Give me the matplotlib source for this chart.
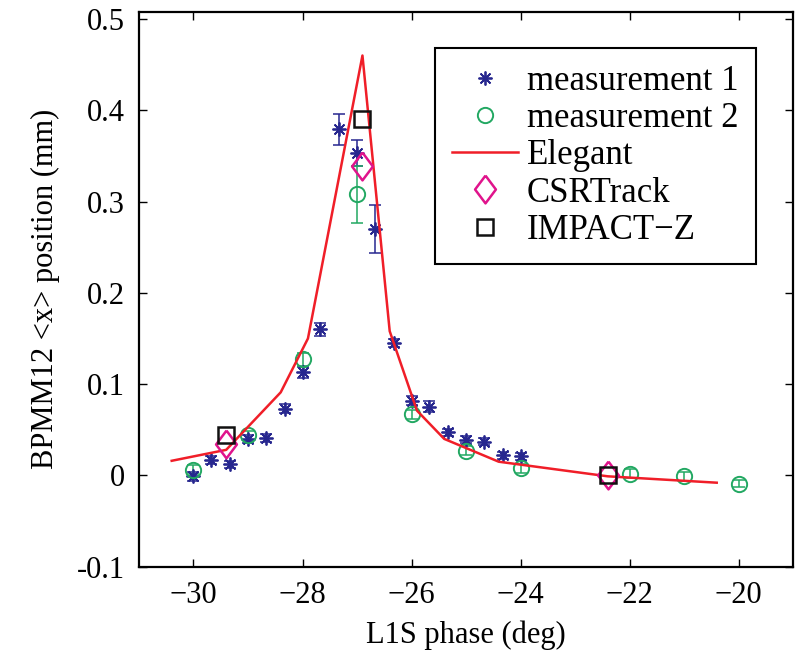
import numpy as np
import matplotlib.pyplot as plt

plt.rcParams['font.family'] = ['Liberation Serif', 'DejaVu Serif']

# measurement 1 (asterisks, with error bars)
m1_phase = [-30.0, -29.67, -29.33, -29.0, -28.67, -28.33, -28.0, -27.67, -27.33, -27.0,
            -26.67, -26.33, -26.0, -25.67, -25.33, -25.0, -24.67, -24.33, -24.0]
m1_pos = [-0.001, 0.017, 0.012, 0.040, 0.041, 0.073, 0.113, 0.160, 0.379, 0.353,
          0.270, 0.145, 0.082, 0.075, 0.047, 0.039, 0.037, 0.022, 0.021]
m1_err = [0.005, 0.004, 0.004, 0.004, 0.004, 0.005, 0.006, 0.007, 0.017, 0.014,
          0.026, 0.004, 0.005, 0.006, 0.004, 0.004, 0.004, 0.004, 0.004]

# measurement 2 (circles, with error bars)
m2_phase = [-30.0, -29.0, -28.0, -27.0, -26.0, -25.0, -24.0, -22.0, -21.0, -20.0]
m2_pos = [0.006, 0.044, 0.127, 0.308, 0.067, 0.027, 0.008, 0.002, -0.001, -0.009]
m2_err = [0.005, 0.005, 0.007, 0.031, 0.005, 0.005, 0.005, 0.005, 0.005, 0.004]

# Elegant simulation
el_phase = [-30.4, -29.4, -28.4, -27.9, -26.9, -26.4, -25.9, -25.4, -24.4, -22.4, -20.4]
el_pos = [0.016, 0.028, 0.091, 0.150, 0.460, 0.158, 0.071, 0.040, 0.015, -0.001, -0.008]

# CSRTrack and IMPACT-Z simulations
csr_phase = [-29.4, -26.9, -22.4]
csr_pos = [0.034, 0.339, 0.000]
imp_phase = [-29.4, -26.9, -22.4]
imp_pos = [0.044, 0.390, 0.000]

c_m1 = '#27278f'
c_m2 = '#22a862'
c_el = '#f01e28'
c_csr = '#e0148c'

# diamond a bit wider than matplotlib's thin diamond
diamond = [(0, 1), (0.75, 0), (0, -1), (-0.75, 0), (0, 1)]

fig = plt.figure(figsize=(7.97, 6.61), dpi=100)
ax = fig.add_axes([0.1744, 0.1427, 0.8206, 0.8396])

ax.errorbar(m1_phase, m1_pos, yerr=m1_err, fmt='none', ecolor=c_m1, elinewidth=1.1, capsize=4, capthick=1.1)
ax.errorbar(m2_phase, m2_pos, yerr=m2_err, fmt='none', ecolor=c_m2, elinewidth=1.1, capsize=4, capthick=1.1)

ax.plot(m1_phase, m1_pos, linestyle='none', marker=(8, 2, 0), markersize=10,
        markeredgewidth=1.3, color=c_m1, label='measurement 1')
ax.plot(m2_phase, m2_pos, linestyle='none', marker='o', markersize=11, markerfacecolor='none',
        markeredgewidth=1.4, color=c_m2, label='measurement 2')
ax.plot(el_phase, el_pos, color=c_el, linewidth=1.8, label='Elegant')
ax.plot(csr_phase, csr_pos, linestyle='none', marker=diamond, markersize=20, markerfacecolor='none',
        markeredgewidth=1.8, color=c_csr, label='CSRTrack')
ax.plot(imp_phase, imp_pos, linestyle='none', marker='s', markersize=11, markerfacecolor='none',
        markeredgewidth=1.8, color='#111111', label='IMPACT\u2212Z')

ax.set_xlim(-31, -19)
ax.set_ylim(-0.1, 0.508)
ax.set_xticks([-30, -28, -26, -24, -22, -20])
ax.set_xticklabels(['\u221230', '\u221228', '\u221226', '\u221224', '\u221222', '\u221220'])
ax.set_yticks([-0.1, 0, 0.1, 0.2, 0.3, 0.4, 0.5])
ax.set_yticklabels(['-0.1', '0', '0.1', '0.2', '0.3', '0.4', '0.5'])
ax.tick_params(direction='in', length=6, width=1, top=True, right=True, labelsize=22, pad=10)
for s in ax.spines.values():
    s.set_linewidth(1.6)

ax.set_xlabel('L1S phase (deg)', fontsize=22, labelpad=8)
ax.set_ylabel('BPMM12 <x> position (mm)', fontsize=22, labelpad=12)

leg = ax.legend(loc='upper right', bbox_to_anchor=(0.943, 0.935), fontsize=25, fancybox=False,
                edgecolor='black', framealpha=1, borderpad=0.5, labelspacing=0.12,
                handlelength=1.9, handletextpad=0.25, borderaxespad=0, numpoints=1)
leg.get_frame().set_linewidth(1.5)

fig.savefig('out.png', dpi=100)
